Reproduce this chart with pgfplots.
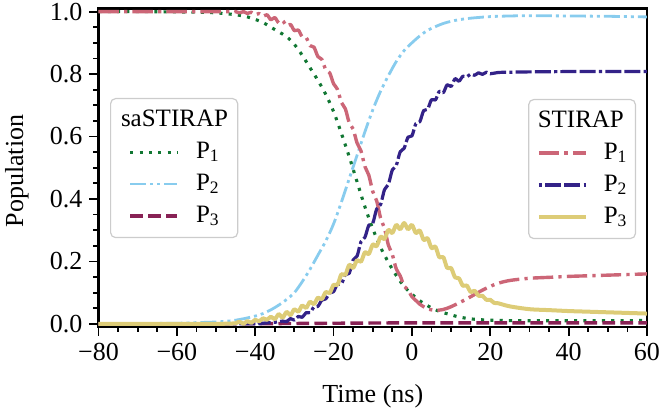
\documentclass[border=0pt]{standalone}
\usepackage{fontspec}
\setmainfont{Liberation Serif}
\usepackage{pgfplots}
\pgfplotsset{compat=1.18}
\definecolor{cgreen}{HTML}{117733}
\definecolor{clblue}{HTML}{88CCEE}
\definecolor{cwine}{HTML}{882255}
\definecolor{crose}{HTML}{CC6677}
\definecolor{cindigo}{HTML}{332288}
\definecolor{csand}{HTML}{DDCC77}
\pgfplotsset{
  base/.style={
    scale only axis, width=274.25pt, height=159.25pt,
    xmin=-80, xmax=60, ymin=-0.01, ymax=1.01,
    axis line style={line width=1.3pt},
    every tick/.style={black, line width=0.9pt},
    tick align=outside, xtick pos=left, ytick pos=left,
    major tick length=4.5pt, minor tick length=2.5pt,
    xtick={-80,-60,-40,-20,0,20,40,60},
    xticklabels={−80,−60,−40,−20,0,20,40,60},
    ytick={0,0.2,0.4,0.6,0.8,1.0},
    yticklabels={0.0,0.2,0.4,0.6,0.8,1.0},
    minor x tick num=3, minor y tick num=3,
    tick label style={font=\fontsize{13}{15}\selectfont},
    /pgf/number format/assume math mode=true,
    legend cell align=left,
    legend image code/.code={\draw[##1] (0pt,0pt) -- (23.5pt,0pt);},
    every axis plot/.append style={line join=round, line cap=butt},
  },
  leg/.style={
    draw=black!20, line width=0.6pt, rounded corners=2.5pt, fill=white,
    fill opacity=0.8, text opacity=1, inner ysep=2.75pt,
    row sep=0pt,
    font=\fontsize{12.5}{15}\selectfont,
    nodes={inner sep=0pt, text height=11pt, text depth=5pt},
  },
}
\begin{document}
\begin{tikzpicture}
\useasboundingbox (-49.25pt,-41.5pt) rectangle (281.25pt,163.5pt);
\begin{axis}[base,
  xlabel={Time (ns)}, ylabel={Population},
  every axis x label/.style={at={(axis description cs:0.5,-0.2386)}, anchor=base, font=\fontsize{13}{15}\selectfont},
  every axis y label/.style={at={(axis description cs:-0.1486,0.49)}, rotate=90, anchor=center, font=\fontsize{13}{15}\selectfont},
  legend style={leg, at={(axis description cs:0.021,0.719)}, anchor=north west, inner xsep=9pt, column sep=8.5pt},
]
\addlegendimage{empty legend}
\addlegendentry{\hspace*{-37.5pt}saSTIRAP\hspace*{-6pt}}
\addplot[cgreen, line width=1.55pt, dash pattern=on 1.55pt off 3.1pt, smooth] coordinates {
(-80,1.000)(-70,1.000)(-60,0.999)(-55,0.998)(-50,0.996)(-45,0.990)(-42,0.983)(-40,0.975)
(-38,0.965)(-36,0.950)(-34,0.935)(-32,0.920)(-30,0.895)(-28,0.860)(-26,0.820)(-24,0.780)
(-22,0.735)(-20,0.680)(-18,0.610)(-16,0.535)(-14,0.455)(-12,0.375)(-10,0.305)(-8,0.245)
(-6,0.197)(-4,0.155)(-2,0.120)(0,0.095)(2,0.074)(4,0.058)(6,0.045)(8,0.036)(10,0.029)
(12,0.022)(15,0.016)(18,0.013)(22,0.011)(30,0.010)(40,0.010)(50,0.010)(60,0.011)};
\addlegendentry{P\textsubscript{1}}
\addplot[clblue, line width=1.4pt, dash pattern=on 8pt off 2pt on 1.5pt off 2pt on 1.5pt off 2pt, smooth] coordinates {
(-80,0.000)(-70,0.001)(-60,0.002)(-55,0.004)(-50,0.006)(-46,0.010)(-44,0.014)(-42,0.019)
(-40,0.025)(-38,0.033)(-36,0.045)(-34,0.060)(-32,0.078)(-30,0.100)(-28,0.135)(-26,0.175)
(-24,0.220)(-22,0.265)(-20,0.320)(-18,0.390)(-16,0.465)(-14,0.540)(-12,0.615)(-10,0.685)
(-8,0.745)(-6,0.795)(-4,0.840)(-2,0.875)(0,0.900)(2,0.922)(4,0.940)(6,0.952)(8,0.962)
(10,0.969)(12,0.974)(15,0.979)(20,0.984)(25,0.986)(30,0.987)(40,0.986)(50,0.985)(60,0.983)};
\addlegendentry{P\textsubscript{2}}
\addplot[cwine, line width=1.7pt, dash pattern=on 6.3pt off 2.7pt] coordinates {
(-80,0.000)(-40,0.0005)(-20,0.002)(-5,0.003)(10,0.003)(30,0.003)(60,0.003)};
\addlegendentry{P\textsubscript{3}}
\end{axis}
\begin{axis}[base, hide axis,
  legend style={leg, at={(axis description cs:0.98,0.716)}, anchor=north east, inner xsep=4pt, column sep=8pt},
]
\addlegendimage{empty legend}
\addlegendentry{\hspace*{-33pt}STIRAP}
\addplot[crose, line width=1.7pt, dash pattern=on 10.2pt off 2.6pt on 1.6pt off 2.6pt, smooth, tension=0.5] coordinates {
(-80,1.000)(-60,1.000)(-46,1.000)(-45,1.000)(-44,0.996)(-43,1.000)(-42,0.994)(-41,0.998)
(-40,0.990)(-39,0.994)(-38,0.985)(-37,0.990)(-36,0.974)(-35,0.981)(-34,0.964)(-33,0.971)
(-32,0.954)(-31,0.959)(-30,0.939)(-29,0.941)(-28,0.919)(-27,0.917)(-26,0.891)(-25,0.886)
(-24,0.856)(-23,0.847)(-22,0.814)(-21,0.804)(-20,0.769)(-19,0.751)(-18,0.709)(-17,0.689)
(-16,0.644)(-15,0.624)(-14,0.579)(-13,0.554)(-12,0.504)(-11,0.476)(-10,0.424)(-9,0.394)
(-8,0.339)(-7,0.306)(-6,0.252)(-5,0.222)(-4,0.176)(-3,0.154)(-2,0.121)(-1,0.109)
(0,0.087)(1,0.075)(2,0.063)(3,0.055)(4,0.048)(5,0.045)(6,0.043)(7,0.044)(8,0.046)
(9,0.050)(10,0.055)(12,0.067)(14,0.080)(16,0.094)(18,0.108)(20,0.120)(22,0.130)
(25,0.139)(30,0.146)(35,0.149)(40,0.152)(45,0.154)(50,0.156)(55,0.158)(60,0.160)};
\addlegendentry{P\textsubscript{1}}
\addplot[cindigo, line width=1.6pt, dash pattern=on 1.6pt off 1.6pt on 8pt off 1.6pt on 8pt off 1.6pt, smooth, tension=0.5] coordinates {
(-80,0.000)(-60,0.000)(-40,0.000)(-39,0.001)(-38,0.002)(-37,0.003)(-36,0.004)(-35,0.005)
(-34,0.007)(-33,0.009)(-32,0.007)(-31,0.017)(-30,0.012)(-29,0.024)(-28,0.021)(-27,0.036)
(-26,0.036)(-25,0.054)(-24,0.056)(-23,0.076)(-22,0.080)(-21,0.099)(-20,0.103)(-19,0.128)
(-18,0.127)(-17,0.158)(-16,0.162)(-15,0.205)(-14,0.217)(-13,0.263)(-12,0.277)(-11,0.316)
(-10,0.322)(-9,0.368)(-8,0.382)(-7,0.430)(-6,0.447)(-5,0.493)(-4,0.507)(-3,0.551)
(-2,0.562)(-1,0.598)(0,0.602)(1,0.641)(2,0.647)(3,0.683)(4,0.687)(5,0.718)(6,0.717)
(7,0.745)(8,0.740)(9,0.766)(10,0.760)(11,0.785)(12,0.777)(13,0.793)(14,0.791)(15,0.800)
(16,0.796)(17,0.804)(18,0.799)(19,0.806)(20,0.801)(22,0.805)(25,0.806)(30,0.807)
(40,0.808)(50,0.808)(60,0.808)};
\addlegendentry{P\textsubscript{2}}
\addplot[csand, line width=2pt, smooth, tension=0.5] coordinates {
(-80,0.000)(-60,0.000)(-50,0.000)(-46,0.001)(-45,0.002)(-44,0.007)(-43,0.000)(-42,0.009)
(-41,0.003)(-40,0.013)(-39,0.008)(-38,0.018)(-37,0.013)(-36,0.023)(-35,0.015)(-34,0.031)
(-33,0.020)(-32,0.038)(-31,0.028)(-30,0.047)(-29,0.039)(-28,0.059)(-27,0.051)(-26,0.071)
(-25,0.063)(-24,0.084)(-23,0.079)(-22,0.102)(-21,0.099)(-20,0.125)(-19,0.125)(-18,0.159)
(-17,0.157)(-16,0.189)(-15,0.179)(-14,0.204)(-13,0.199)(-12,0.229)(-11,0.224)(-10,0.254)
(-9,0.249)(-8,0.279)(-7,0.272)(-6,0.301)(-5,0.291)(-4,0.317)(-3,0.303)(-2,0.323)
(-1,0.303)(0,0.317)(1,0.291)(2,0.299)(3,0.269)(4,0.274)(5,0.243)(6,0.247)(7,0.213)
(8,0.214)(9,0.179)(10,0.179)(11,0.149)(12,0.146)(13,0.122)(14,0.123)(15,0.102)
(16,0.106)(17,0.090)(18,0.090)(19,0.077)(20,0.077)(21,0.067)(22,0.066)(25,0.056)
(30,0.047)(35,0.044)(40,0.041)(45,0.039)(50,0.037)(55,0.035)(60,0.033)};
\addlegendentry{P\textsubscript{3}}
\end{axis}
\end{tikzpicture}
\end{document}
